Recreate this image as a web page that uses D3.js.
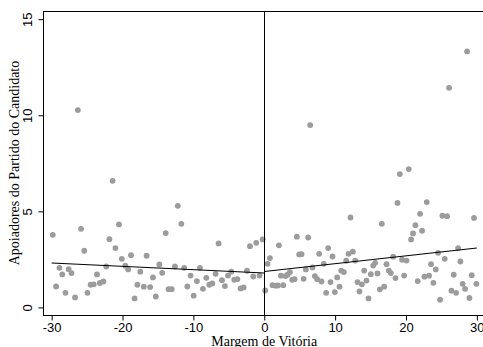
<!DOCTYPE html>
<html>
<head>
<meta charset="utf-8">
<script src="https://cdn.jsdelivr.net/npm/d3@7"></script>
<style>
  body { margin: 0; background: #fff; }
  svg { display: block; font-family: "Liberation Serif", "DejaVu Serif", serif; }
</style>
</head>
<body>
<div id="chart"></div>
<script>
// margem de vitória (x) e apoiadores (y), lado esquerdo
const leftX = [-29.84, -29.37, -28.9, -28.5, -28.05, -27.6, -27.2, -26.7, -26.3, -25.85, -25.4, -24.95, -24.5, -24.06, -23.6, -23.2, -22.7, -22.3, -21.85, -21.4, -21.0, -20.5, -20.1, -19.6, -19.2, -18.8, -18.3, -17.9, -17.5, -17.0, -16.6, -16.1, -15.7, -15.3, -14.8, -14.4, -13.9, -13.5, -13.06, -12.6, -12.2, -11.7, -11.3, -10.85, -10.4, -9.96, -9.5, -9.07, -8.65, -8.18, -7.75, -7.33, -6.86, -6.44, -5.97, -5.55, -5.12, -4.65, -4.23, -3.8, -3.34, -2.91, -2.44, -2.02, -1.55, -1.13, -0.66, -0.23];
const leftY = [3.78, 1.09, 2.06, 1.72, 0.76, 1.99, 1.79, 0.52, 10.27, 4.09, 2.95, 0.76, 1.18, 1.2, 1.72, 1.27, 1.35, 2.13, 3.55, 6.59, 3.09, 4.32, 2.53, 2.17, 1.98, 2.72, 0.47, 1.18, 1.86, 1.08, 2.69, 1.06, 1.56, 0.57, 2.24, 1.8, 3.87, 0.95, 0.95, 2.13, 5.29, 4.35, 2.06, 1.09, 1.66, 0.61, 1.37, 2.06, 0.97, 1.54, 1.18, 1.25, 1.75, 3.33, 1.42, 1.11, 1.66, 1.86, 1.44, 1.47, 0.99, 1.04, 1.91, 3.19, 1.61, 3.36, 1.66, 3.54];

// lado direito
const rightX = [0.14, 0.47, 0.8, 1.17, 1.6, 1.93, 2.07, 2.35, 2.68, 2.99, 3.29, 3.62, 3.95, 4.28, 4.6, 4.93, 5.26, 5.55, 5.87, 6.2, 6.48, 6.81, 7.14, 7.47, 7.75, 8.08, 8.41, 8.74, 9.02, 9.35, 9.63, 9.96, 10.29, 10.62, 10.86, 11.23, 11.56, 11.89, 12.17, 12.5, 12.83, 13.16, 13.44, 13.77, 14.1, 14.43, 14.71, 15.04, 15.37, 15.65, 15.98, 16.31, 16.59, 16.92, 17.25, 17.58, 17.86, 18.19, 18.52, 18.8, 19.13, 19.45, 19.74, 20.07, 20.39, 20.72, 21.0, 21.33, 21.66, 21.99, 22.27, 22.6, 22.93, 23.26, 23.54, 23.87, 24.2, 24.53, 24.81, 25.14, 25.47, 25.8, 26.08, 26.41, 26.74, 27.07, 27.35, 27.68, 28.0, 28.34, 28.62, 28.95, 29.28, 29.6, 29.93];
const rightY = [0.88, 2.27, 2.57, 1.16, 1.13, 1.14, 3.23, 1.65, 1.16, 1.63, 1.7, 1.84, 1.44, 1.47, 3.68, 2.76, 2.77, 1.49, 1.98, 3.64, 9.49, 2.08, 1.63, 1.47, 2.79, 1.35, 2.27, 0.76, 3.09, 1.32, 2.65, 0.8, 1.56, 1.08, 1.92, 1.84, 2.43, 2.79, 4.68, 2.9, 2.44, 1.32, 0.83, 1.2, 1.92, 1.4, 0.47, 1.73, 2.18, 2.32, 1.77, 0.94, 4.35, 1.08, 2.25, 1.92, 1.79, 2.64, 1.53, 5.44, 6.94, 2.48, 1.66, 2.44, 7.2, 3.54, 3.85, 4.28, 1.37, 4.87, 3.99, 1.6, 5.48, 1.65, 2.25, 1.28, 1.98, 2.84, 0.4, 4.77, 2.53, 4.75, 11.43, 0.87, 1.7, 0.76, 3.09, 2.39, 1.23, 0.97, 13.32, 0.49, 1.68, 4.66, 1.23];

// retas ajustadas (extremos)
const fitLeftX = [-30, 0];
const fitLeftY = [2.31, 1.79];
const fitRightX = [0, 30];
const fitRightY = [1.87, 3.09];

const xTicks = [-30, -20, -10, 0, 10, 20, 30];
const yTicks = [0, 5, 10, 15];

const width = 483, height = 347;
const margin = { top: 11.5, right: -2, bottom: 31.5, left: 43.5 };

const svg = d3.select('#chart')
  .append('svg')
  .attr('width', width)
  .attr('height', height);

const x = d3.scaleLinear()
  .domain([-31.15, 31.15])
  .range([margin.left, width - margin.right]);

const y = d3.scaleLinear()
  .domain([-0.42, 15.4])
  .range([height - margin.bottom, margin.top]);

// moldura
svg.append('rect')
  .attr('x', margin.left)
  .attr('y', margin.top)
  .attr('width', x.range()[1] - margin.left)
  .attr('height', y.range()[0] - margin.top)
  .attr('fill', 'none')
  .attr('stroke', '#000')
  .attr('stroke-width', 1);

const points = leftX.map((d, i) => ({ x: d, y: leftY[i] }))
  .concat(rightX.map((d, i) => ({ x: d, y: rightY[i] })));

svg.append('g')
  .attr('fill', '#9c9c9c')
  .selectAll('circle')
  .data(points)
  .join('circle')
  .attr('cx', d => x(d.x))
  .attr('cy', d => y(d.y))
  .attr('r', 2.9);

// linha vertical em 0
svg.append('line')
  .attr('x1', Math.round(x(0)) + 0.5).attr('x2', Math.round(x(0)) + 0.5)
  .attr('y1', margin.top).attr('y2', y.range()[0])
  .attr('stroke', '#000')
  .attr('stroke-width', 1);

const line = d3.line().x(d => x(d[0])).y(d => y(d[1]));
[[fitLeftX, fitLeftY], [fitRightX, fitRightY]].forEach(([xs, ys]) => {
  svg.append('path')
    .attr('d', line(xs.map((d, i) => [d, ys[i]])))
    .attr('fill', 'none')
    .attr('stroke', '#000')
    .attr('stroke-width', 1.1);
});

// eixo x
const xAxis = svg.append('g')
  .attr('transform', `translate(0,${y.range()[0]})`)
  .call(d3.axisBottom(x).tickValues(xTicks).tickSize(5).tickPadding(2).tickFormat(d => String(d)));
xAxis.select('.domain').remove();
xAxis.selectAll('text').attr('font-size', 13).attr('font-family', null).attr('fill', '#000');

// eixo y
const yAxis = svg.append('g')
  .attr('transform', `translate(${margin.left},0)`)
  .call(d3.axisLeft(y).tickValues(yTicks).tickSize(5).tickFormat(d => String(d)));
yAxis.select('.domain').remove();
yAxis.selectAll('.tick text')
  .attr('font-size', 13)
  .attr('font-family', null)
  .attr('fill', '#000')
  .attr('text-anchor', 'middle')
  .attr('x', 0)
  .attr('dy', 0)
  .attr('transform', 'translate(-11.5,0) rotate(-90)');

svg.append('text')
  .attr('x', x(0))
  .attr('y', height - 1)
  .attr('text-anchor', 'middle')
  .attr('font-size', 14)
  .text('Margem de Vitória');

svg.append('text')
  .attr('transform', `translate(19,163) rotate(-90)`)
  .attr('text-anchor', 'middle')
  .attr('font-size', 14)
  .text('Apoiadores do Partido do Candidato');
</script>
</body>
</html>
